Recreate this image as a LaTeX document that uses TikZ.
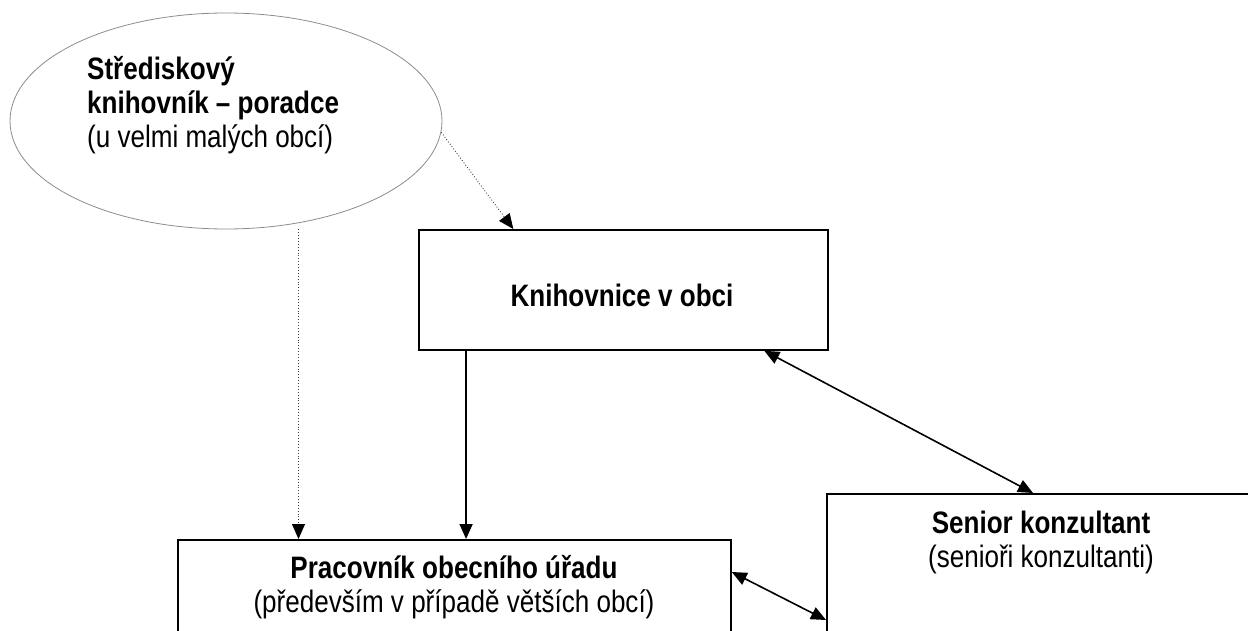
\documentclass[tikz,border=0pt]{standalone}
\usepackage{fontspec}
\setmainfont{Liberation Sans}[FakeStretch=0.84]
\usetikzlibrary{shapes.geometric,arrows.meta,calc}
\begin{document}
\begin{tikzpicture}[x=1pt, y=1pt, >={Triangle[length=15pt,width=13pt]},
  box/.style={draw, line width=1.8pt, inner sep=0pt, anchor=north west},
  txt/.style={inner sep=0pt, font=\fontsize{31}{34}\selectfont},
  dots/.style={dotted, line width=0.9pt, black!75, -{Triangle[length=15pt,width=13pt,color=black]}},
  line/.style={line width=1.6pt}]
\useasboundingbox (0,0) rectangle (1248,630);
\node[ellipse, draw=black!45, line width=0.8pt, inner sep=0pt, minimum width=432pt, minimum height=216pt] (strd) at (226,509) {};
\node[txt, anchor=base west, align=left] (strdtxt) at (87,482) {\textbf{Střediskový}\\ \textbf{knihovník – poradce}\\(u velmi malých obcí)};
\node[box, minimum width=409pt, minimum height=120pt] (knih) at (418,401) {};
\node[txt, anchor=base] (knihtxt) at (622,323) {\textbf{Knihovnice v obci}};
\node[box, minimum width=440pt, minimum height=300pt] (sen) at (826,137) {};
\node[txt, anchor=base, align=center] (sentxt) at (1041,63) {\textbf{Senior konzultant}\\(senioři konzultanti)};
\node[box, minimum width=553pt, minimum height=200pt] (prac) at (177,91) {};
\node[txt, anchor=base, align=center] (practxt) at (454,18) {\textbf{Pracovník obecního úřadu}\\(především v případě větších obcí)};
\coordinate (kd) at ($(knih.south west)!.117!(knih.south east)$);
\coordinate (pd) at ($(prac.north west)!.219!(prac.north east)$);
\draw[dots] (strd.-3) -- ($(knih.north west)!.232!(knih.north east)$);
\draw[dots] (pd |- strd.south) -- (pd);
\draw[line,->] (kd) -- (kd |- prac.north);
\draw[line,<->] ($(knih.south west)!.843!(knih.south east)$) -- ($(sen.north west)+(207,0)$);
\draw[line,<->] ($(prac.north east)+(0,-33)$) -- ($(sen.north west)+(0,-127)$);
\end{tikzpicture}
\end{document}
